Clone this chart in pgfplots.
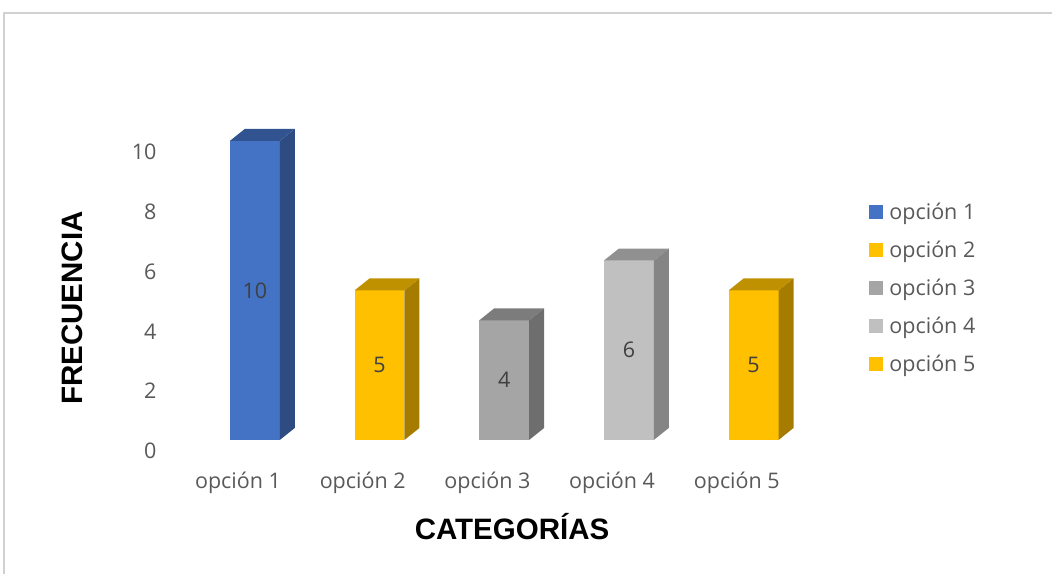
\documentclass[border=0pt]{standalone}
\usepackage{fontspec}
\setmainfont{Open Sans}
\newfontfamily\arialb{Liberation Sans}
\usepackage{pgfplots}
\pgfplotsset{compat=1.18}

\definecolor{txt}{HTML}{595959}
\definecolor{lbl}{HTML}{404040}
\definecolor{blueF}{HTML}{4472C4}
\definecolor{blueS}{HTML}{2E4B82}
\definecolor{blueT}{HTML}{31538F}
\definecolor{yelF}{HTML}{FFC000}
\definecolor{yelS}{HTML}{A67C00}
\definecolor{yelT}{HTML}{BF9000}
\definecolor{grF}{HTML}{A5A5A5}
\definecolor{grS}{HTML}{6E6E6E}
\definecolor{grT}{HTML}{7C7C7C}
\definecolor{lgF}{HTML}{C0C0C0}
\definecolor{lgS}{HTML}{858585}
\definecolor{lgT}{HTML}{909090}

\begin{document}
\begin{tikzpicture}[x=1pt,y=1pt]
\useasboundingbox (0,0) rectangle (1052,574);
% chart frame
\draw[color=black!18, line width=1.5pt] (4,0) -- (4,561) -- (1052,561);

\begin{axis}[
  at={(181.9pt,123pt)}, anchor=south west,
  scale only axis, width=611pt, height=329pt,
  xmin=-0.45, xmax=4.45, ymin=0, ymax=11,
  clip=false,
  axis line style={draw=none},
  major tick length=0pt,
  xtick={0,1,2,3,4},
  xticklabels={opción 1,opción 2,opción 3,opción 4,opción 5},
  ytick={0,2,4,6,8,10},
  /pgf/number format/assume math mode=true,
  tick label style={font=\fontsize{21.5}{25}\selectfont, text=txt},
  yticklabel style={xshift=-22pt},
  xticklabel style={yshift=-17pt},
  legend cell align=left,
  legend image code/.code={\fill[#1,draw=none] (0pt,-7pt) rectangle (14pt,7pt);},
  legend style={at={(1.12,0.495)}, anchor=west, draw=none, fill=none,
    font=\fontsize{21.5}{25}\selectfont, text=txt, row sep=18pt,
    nodes={inner sep=1pt},
    /tikz/every odd column/.append style={column sep=5pt}},
]
% ---- opción 1 : 10
\addplot[fill=blueF, draw=none] coordinates {(-0.065,0.37) (0.335,0.37) (0.335,10.37) (-0.065,10.37)} --cycle;
\addlegendentry{opción 1}
\addplot[fill=blueS, draw=none, forget plot] coordinates {(0.335,0.37) (0.455,0.77) (0.455,10.77) (0.335,10.37)} --cycle;
\addplot[fill=blueT, draw=none, forget plot] coordinates {(-0.065,10.37) (0.055,10.77) (0.455,10.77) (0.335,10.37)} --cycle;
% ---- opción 2 : 5
\addplot[fill=yelF, draw=none] coordinates {(0.935,0.37) (1.335,0.37) (1.335,5.37) (0.935,5.37)} --cycle;
\addlegendentry{opción 2}
\addplot[fill=yelS, draw=none, forget plot] coordinates {(1.335,0.37) (1.455,0.77) (1.455,5.77) (1.335,5.37)} --cycle;
\addplot[fill=yelT, draw=none, forget plot] coordinates {(0.935,5.37) (1.055,5.77) (1.455,5.77) (1.335,5.37)} --cycle;
% ---- opción 3 : 4
\addplot[fill=grF, draw=none] coordinates {(1.935,0.37) (2.335,0.37) (2.335,4.37) (1.935,4.37)} --cycle;
\addlegendentry{opción 3}
\addplot[fill=grS, draw=none, forget plot] coordinates {(2.335,0.37) (2.455,0.77) (2.455,4.77) (2.335,4.37)} --cycle;
\addplot[fill=grT, draw=none, forget plot] coordinates {(1.935,4.37) (2.055,4.77) (2.455,4.77) (2.335,4.37)} --cycle;
% ---- opción 4 : 6
\addplot[fill=lgF, draw=none] coordinates {(2.935,0.37) (3.335,0.37) (3.335,6.37) (2.935,6.37)} --cycle;
\addlegendentry{opción 4}
\addplot[fill=lgS, draw=none, forget plot] coordinates {(3.335,0.37) (3.455,0.77) (3.455,6.77) (3.335,6.37)} --cycle;
\addplot[fill=lgT, draw=none, forget plot] coordinates {(2.935,6.37) (3.055,6.77) (3.455,6.77) (3.335,6.37)} --cycle;
% ---- opción 5 : 5
\addplot[fill=yelF, draw=none] coordinates {(3.935,0.37) (4.335,0.37) (4.335,5.37) (3.935,5.37)} --cycle;
\addlegendentry{opción 5}
\addplot[fill=yelS, draw=none, forget plot] coordinates {(4.335,0.37) (4.455,0.77) (4.455,5.77) (4.335,5.37)} --cycle;
\addplot[fill=yelT, draw=none, forget plot] coordinates {(3.935,5.37) (4.055,5.77) (4.455,5.77) (4.335,5.37)} --cycle;

% data labels
\begin{scope}[every node/.style={font=\fontsize{21.5}{25}\selectfont, text=lbl}]
\node at (axis cs:0.135,5.37) {10};
\node at (axis cs:1.135,2.87) {5};
\node at (axis cs:2.135,2.37) {4};
\node at (axis cs:3.135,3.37) {6};
\node at (axis cs:4.135,2.87) {5};
\end{scope}
\end{axis}

\node[font=\arialb\bfseries\fontsize{29.5}{33}\selectfont, text=black] at (512,47) {CATEGORÍAS};
\node[font=\arialb\bfseries\fontsize{29.5}{33}\selectfont, text=black, rotate=90] at (72,266) {FRECUENCIA};
\end{tikzpicture}
\end{document}
